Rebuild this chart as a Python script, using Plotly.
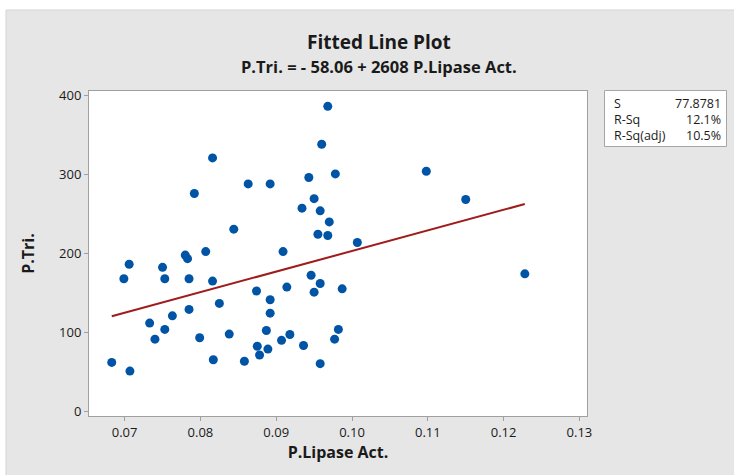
import plotly.graph_objects as go
import numpy as np

# ---- data ----
p_lipase = [0.0683, 0.0707, 0.0699, 0.0706, 0.0733, 0.0740, 0.0750, 0.0753, 0.0753, 0.0763,
            0.0780, 0.0783, 0.0785, 0.0785, 0.0792, 0.0807, 0.0799, 0.0816, 0.0816, 0.0817,
            0.0825, 0.0838, 0.0844, 0.0858, 0.0863, 0.0874, 0.0875, 0.0878, 0.0887, 0.0889,
            0.0892, 0.0892, 0.0892, 0.0907, 0.0909, 0.0914, 0.0918, 0.0934, 0.0936, 0.0943,
            0.0946, 0.0950, 0.0950, 0.0955, 0.0958, 0.0958, 0.0958, 0.0960, 0.0968, 0.0970,
            0.0968, 0.0977, 0.0978, 0.0982, 0.0987, 0.1007, 0.1098, 0.1150, 0.1228]
p_tri = [61.6, 50.6, 167.5, 186, 111.4, 91, 182, 167.5, 103.4, 120.6,
         197.5, 193, 167.5, 128.7, 275.5, 202, 92.8, 320.6, 164.6, 65,
         136.3, 97.5, 230.4, 63, 287.7, 152, 82, 71, 102, 78.5,
         141, 124, 287.7, 89.5, 202, 157, 97, 257, 83, 295.8,
         172, 150.6, 269, 224, 253.6, 161.6, 60, 338, 386, 239.6,
         222.4, 91, 300.4, 103.4, 154.8, 213.5, 303.8, 268, 173.8]

intercept = -58.06
slope = 2608
stat_labels = ["S", "R-Sq", "R-Sq(adj)"]
stat_values = ["77.8781", "12.1%", "10.5%"]
x_ticks = [0.07, 0.08, 0.09, 0.10, 0.11, 0.12, 0.13]
y_ticks = [0, 100, 200, 300, 400]

# ---- layout geometry ----
W, H = 734, 475
L, R, T, B = 89, 147, 91, 59
PW, PH = W - L - R, H - T - B

def px(x):
    return (x - L) / PW

def py(y):
    return (H - B - y) / PH

FONT = "Open Sans"
TXT = "#1a1a1a"
GRAY = "#e6e6e6"

fit_x = np.linspace(min(p_lipase), max(p_lipase), 50)
fit_y = intercept + slope * fit_x

fig = go.Figure()
fig.add_trace(go.Scatter(x=p_lipase, y=p_tri, mode="markers",
                         marker=dict(color="#0054a6", size=9, line=dict(width=0)),
                         showlegend=False, hoverinfo="x+y"))
fig.add_trace(go.Scatter(x=fit_x, y=fit_y, mode="lines",
                         line=dict(color="#a01c1c", width=2),
                         showlegend=False))

shapes = [
    # white strips outside the gray panel (top and left)
    dict(type="rect", xref="paper", yref="paper", layer="below",
         x0=px(-5), x1=px(740), y0=py(10), y1=py(-5),
         fillcolor="white", line=dict(width=0)),
    dict(type="rect", xref="paper", yref="paper", layer="below",
         x0=px(-5), x1=px(6), y0=py(480), y1=py(-5),
         fillcolor="white", line=dict(width=0)),
    # panel edges
    dict(type="line", xref="paper", yref="paper", layer="below",
         x0=px(6), x1=px(740), y0=py(10), y1=py(10),
         line=dict(color="#d4d4d4", width=1)),
    dict(type="line", xref="paper", yref="paper", layer="below",
         x0=px(6), x1=px(6), y0=py(10), y1=py(480),
         line=dict(color="#d4d4d4", width=1)),
    # stats box
    dict(type="rect", xref="paper", yref="paper",
         x0=px(604.5), x1=px(726.5), y0=py(146.5), y1=py(90.5),
         fillcolor="white", line=dict(color="#a6a6a6", width=1)),
]

annotations = [
    dict(text="<b>Fitted Line Plot</b>", x=px(379), y=py(42), xref="paper", yref="paper",
         showarrow=False, xanchor="center", yanchor="middle",
         font=dict(family=FONT, size=19, color=TXT)),
    dict(text="<b>P.Tri. = - 58.06 + 2608 P.Lipase Act.</b>", x=px(379), y=py(67),
         xref="paper", yref="paper", showarrow=False, xanchor="center", yanchor="middle",
         font=dict(family=FONT, size=16.5, color=TXT)),
]
row_y = [103, 119, 135]
for lab, val, yy in zip(stat_labels, stat_values, row_y):
    annotations.append(dict(text=lab, x=px(612), y=py(yy), xref="paper", yref="paper",
                            showarrow=False, xanchor="left", yanchor="middle",
                            font=dict(family=FONT, size=12.5, color=TXT)))
    annotations.append(dict(text=val, x=px(723), y=py(yy), xref="paper", yref="paper",
                            showarrow=False, xanchor="right", yanchor="middle",
                            font=dict(family=FONT, size=12.5, color=TXT)))

axis_common = dict(showline=True, linecolor="#a0a0a0", linewidth=1, mirror=True,
                   ticks="outside", ticklen=4, tickcolor="#a0a0a0",
                   showgrid=False, zeroline=False,
                   tickfont=dict(family=FONT, size=13, color=TXT))

fig.update_layout(
    width=W, height=H,
    margin=dict(l=L, r=R, t=T, b=B),
    paper_bgcolor=GRAY, plot_bgcolor="white",
    shapes=shapes, annotations=annotations,
    xaxis=dict(range=[0.0653, 0.1310], tickvals=x_ticks, tickformat=".2f",
               title=dict(text="<b>P.Lipase Act.</b>", standoff=5,
                          font=dict(family=FONT, size=16, color=TXT)),
               **axis_common),
    yaxis=dict(range=[-6.3, 405.4], tickvals=y_ticks,
               title=dict(text="<b>P.Tri.</b>", standoff=20,
                          font=dict(family=FONT, size=16, color=TXT)),
               **axis_common),
)

fig.write_html("out.html", config={"displayModeBar": False},
               post_script="document.body.style.margin='0';document.body.style.overflow='hidden';")
